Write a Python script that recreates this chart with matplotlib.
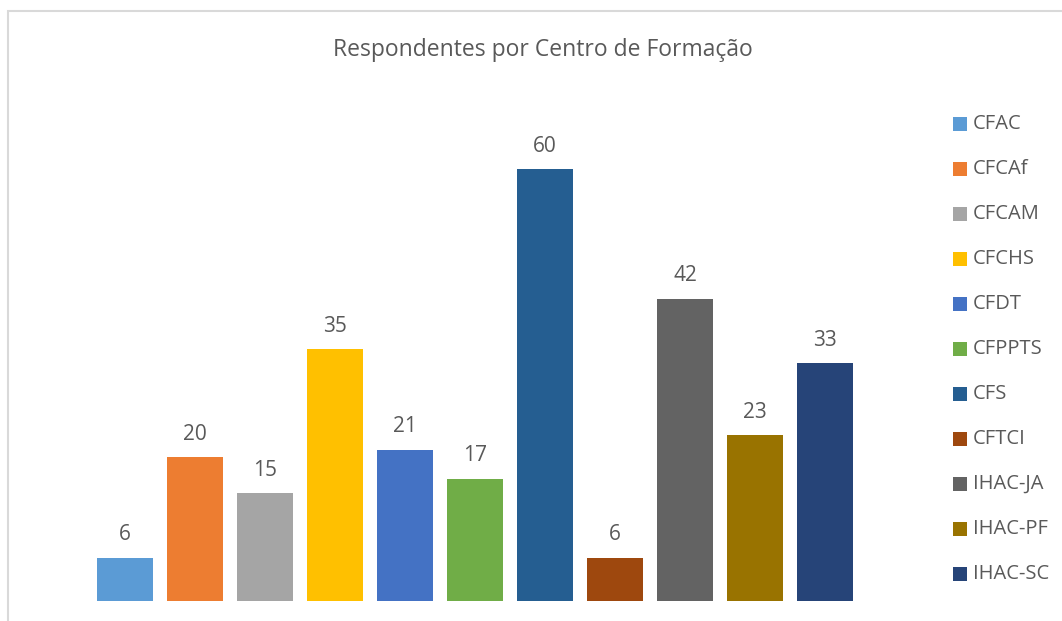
import matplotlib.pyplot as plt
from matplotlib.patches import Rectangle

# data
centros = ['CFAC', 'CFCAf', 'CFCAM', 'CFCHS', 'CFDT', 'CFPPTS', 'CFS', 'CFTCI',
           'IHAC-JA', 'IHAC-PF', 'IHAC-SC']
respondentes = [6, 20, 15, 35, 21, 17, 60, 6, 42, 23, 33]
cores = ['#5B9BD5', '#ED7D31', '#A5A5A5', '#FFC000', '#4472C4', '#70AD47',
         '#255E91', '#9E480E', '#636363', '#997300', '#264478']

plt.rcParams['font.family'] = ['Open Sans', 'DejaVu Sans']
txt = '#595959'

W, H = 1062, 621
fig = plt.figure(figsize=(W / 100, H / 100), dpi=100)

# chart frame (light grey, left + top visible)
fig.add_artist(Rectangle((8 / W, -0.1), 1.2, (H - 11) / H + 0.1, transform=fig.transFigure,
                         fill=False, edgecolor='#d9d9d9', linewidth=1.5))

ax = fig.add_axes([90 / W, 20 / H, 770 / W, 504 / H])
x = range(len(centros))
bars = ax.bar(x, respondentes, width=0.8, color=cores)
for xi, v in zip(x, respondentes):
    ax.annotate(str(v), (xi, v), xytext=(0, 9), textcoords='offset points',
                ha='center', va='bottom', fontsize=15, color=txt)
ax.set_xlim(-0.5, len(centros) - 0.5)
ax.set_ylim(0, 70)
ax.axis('off')

fig.text(543 / W, 1 - 50 / H, 'Respondentes por Centro de Formação',
         ha='center', va='center', fontsize=16.5, color=txt)

# legend
for i, (nome, c) in enumerate(zip(centros, cores)):
    yc = 124 + 45 * i
    fig.add_artist(Rectangle((953 / W, 1 - (yc + 7) / H), 14 / W, 14 / H,
                             transform=fig.transFigure, facecolor=c, edgecolor='none'))
    fig.text(973 / W, 1 - yc / H, nome, ha='left', va='center', fontsize=14.5, color=txt)

fig.savefig('out.png', dpi=100)
